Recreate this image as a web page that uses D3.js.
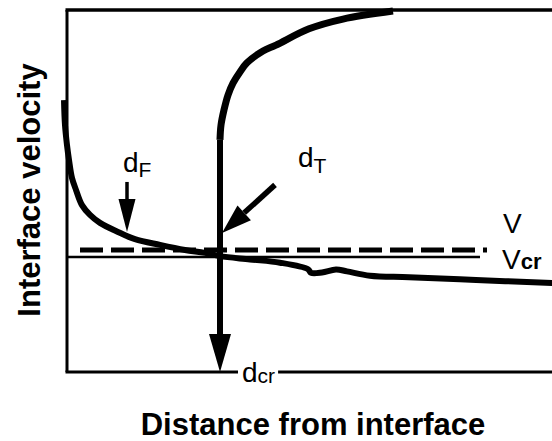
<!DOCTYPE html>
<html>
<head>
<meta charset="utf-8">
<script src="https://cdn.jsdelivr.net/npm/d3@7"></script>
<style>
    body { margin: 0; background: #fff; }
    text { font-family: 'Liberation Sans', Arial, Helvetica, sans-serif; fill: #000; }
</style>
</head>
<body>
<div id="chart"></div>
<script>
// Friction-controlled curve (d_F)
var frictionDist = [-0.6, -0.4, 0, 0.4, 1, 1.8, 3, 4.6, 6.6, 10.2, 13.6, 18.6, 23.6, 27.6, 30.6, 36.6, 42.6, 48.2, 48.8, 51, 53.8, 56, 60.6, 68.4, 81.8, 97, 100];
var frictionVel = [75.1, 68.2, 62.7, 58.6, 53.6, 50.3, 46.1, 43.4, 41.2, 38.7, 36.7, 35.1, 33.7, 32.9, 32.0, 31.1, 30.2, 28.4, 27.4, 27.5, 28.3, 27.8, 26.6, 26.2, 25.4, 24.6, 24.4];

// Thermally-controlled curve (d_T), starts at d_cr and rises
var thermalDist = [30.6, 30.8, 31.4, 32.2, 33.2, 34.6, 36, 39.2, 41.8, 48.4, 55.2, 65.2];
var thermalVel = [64.1, 68.2, 72.4, 76.5, 79.8, 82.9, 85.4, 88.7, 90.3, 94.8, 97.5, 99.7];

// Reference velocities: [level, from, to]
var velV = [33.7, 2.6, 84];
var velCr = [31.8, 0, 82.6];

// Arrows: [fromDist, fromVel, toDist, toVel]
var arrowF = [12, 52.5, 12, 38.7];
var arrowT = [41.6, 51.7, 31, 38.4];
var distCr = 30.6;

// Text
var yTitle = 'Interface velocity';
var xTitle = 'Distance from interface';

var W = 552, H = 441;
var x = d3.scaleLinear().domain([0, 100]).range([67, 567]);
var y = d3.scaleLinear().domain([0, 100]).range([372, 10]);

var svg = d3.select('#chart').append('svg').attr('width', W).attr('height', H);
svg.append('rect').attr('width', W).attr('height', H).attr('fill', '#fff');

var line = d3
    .line()
    .x((d) => x(d[0]))
    .y((d) => y(d[1]))
    .curve(d3.curveCatmullRom.alpha(0.5));

// arrow head as a triangle, tip at (tx,ty), coming from (sx,sy)
function head(sx, sy, tx, ty, len, half) {
    var dx = tx - sx, dy = ty - sy, n = Math.sqrt(dx * dx + dy * dy);
    var ux = dx / n, uy = dy / n;
    var bx = tx - ux * len, by = ty - uy * len;
    return [[tx, ty], [bx - uy * half, by + ux * half], [bx + uy * half, by - ux * half]];
}

// Frame (left, top, bottom)
svg.append('line').attr('x1', x(0)).attr('x2', x(0)).attr('y1', y(0)).attr('y2', y(100))
    .attr('stroke', '#000').attr('stroke-width', 3);
svg.append('line').attr('x1', x(0) - 1.5).attr('x2', x(100)).attr('y1', y(100)).attr('y2', y(100))
    .attr('stroke', '#000').attr('stroke-width', 3.5);
svg.append('line').attr('x1', x(0) - 1.5).attr('x2', x(100)).attr('y1', y(0)).attr('y2', y(0))
    .attr('stroke', '#000').attr('stroke-width', 3);

// V_cr (thin solid) and V (dashed)
svg.append('line').attr('x1', x(velCr[1])).attr('x2', x(velCr[2])).attr('y1', y(velCr[0])).attr('y2', y(velCr[0]))
    .attr('stroke', '#000').attr('stroke-width', 2.5);
svg.append('line').attr('x1', x(velV[1])).attr('x2', x(velV[2])).attr('y1', y(velV[0])).attr('y2', y(velV[0]))
    .attr('stroke', '#000').attr('stroke-width', 5).attr('stroke-dasharray', '23,8');

// Curves
svg.append('path').datum(d3.zip(frictionDist, frictionVel)).attr('d', line)
    .attr('fill', 'none').attr('stroke', '#000').attr('stroke-width', 6).attr('stroke-linejoin', 'round');
svg.append('path').datum(d3.zip(thermalDist, thermalVel)).attr('d', line)
    .attr('fill', 'none').attr('stroke', '#000').attr('stroke-width', 7).attr('stroke-linejoin', 'round');

// d_cr arrow: shaft down from start of thermal curve
var cx = x(distCr), cTop = y(thermalVel[0]), cTip = y(0);
svg.append('line').attr('x1', cx).attr('x2', cx).attr('y1', cTop).attr('y2', cTip - 30)
    .attr('stroke', '#000').attr('stroke-width', 6);
svg.append('polygon').attr('points', head(cx, cTop, cx, cTip, 38, 11).join(' ')).attr('fill', '#000');

// d_F arrow
var fs = [x(arrowF[0]), y(arrowF[1])], ft = [x(arrowF[2]), y(arrowF[3])];
svg.append('line').attr('x1', fs[0]).attr('y1', fs[1]).attr('x2', ft[0]).attr('y2', ft[1] - 25)
    .attr('stroke', '#000').attr('stroke-width', 3.5);
svg.append('polygon').attr('points', head(fs[0], fs[1], ft[0], ft[1], 33, 8.5).join(' ')).attr('fill', '#000');

// d_T arrow
var ts = [x(arrowT[0]), y(arrowT[1])], tt = [x(arrowT[2]), y(arrowT[3])];
var th = head(ts[0], ts[1], tt[0], tt[1], 30, 10);
svg.append('line').attr('x1', ts[0]).attr('y1', ts[1])
    .attr('x2', (th[1][0] + th[2][0]) / 2).attr('y2', (th[1][1] + th[2][1]) / 2)
    .attr('stroke', '#000').attr('stroke-width', 5.5);
svg.append('polygon').attr('points', th.join(' ')).attr('fill', '#000');

// Labels with subscripts
function label(px, py, main, sub, size, subSize, subDy, subWeight) {
    var t = svg.append('text').attr('x', px).attr('y', py).attr('font-size', size);
    t.append('tspan').text(main);
    t.append('tspan').attr('font-size', subSize).attr('dy', subDy).attr('font-weight', subWeight).text(sub);
    return t;
}
label(fs[0] - 4, fs[1] - 10, 'd', 'F', 28, 21, 5, 'normal');
label(ts[0] + 23, ts[1] - 18, 'd', 'T', 28, 21, 6, 'normal');

var dcr = label(cx + 22, cTip + 10, 'd', 'cr', 28, 21, 1, 'normal');
var bb = dcr.node().getBBox();
svg.insert('rect', 'text').attr('x', bb.x - 4).attr('y', cTip - 4).attr('width', bb.width + 7).attr('height', 8)
    .attr('fill', '#fff');

svg.append('text').attr('x', x(velV[2]) + 16).attr('y', y(velV[0]) - 17)
    .attr('font-size', 28).text('V');
label(x(velCr[2]) + 22, y(velCr[0]) + 12, 'V', 'cr', 28, 22, 0, 'bold');

// Axis titles
svg.append('text').attr('transform', 'translate(40,190) rotate(-90)').attr('text-anchor', 'middle')
    .attr('font-size', 31).attr('font-weight', 'bold').text(yTitle);
svg.append('text').attr('x', 313).attr('y', 435).attr('text-anchor', 'middle')
    .attr('font-size', 31).attr('font-weight', 'bold').text(xTitle);
</script>
</body>
</html>
